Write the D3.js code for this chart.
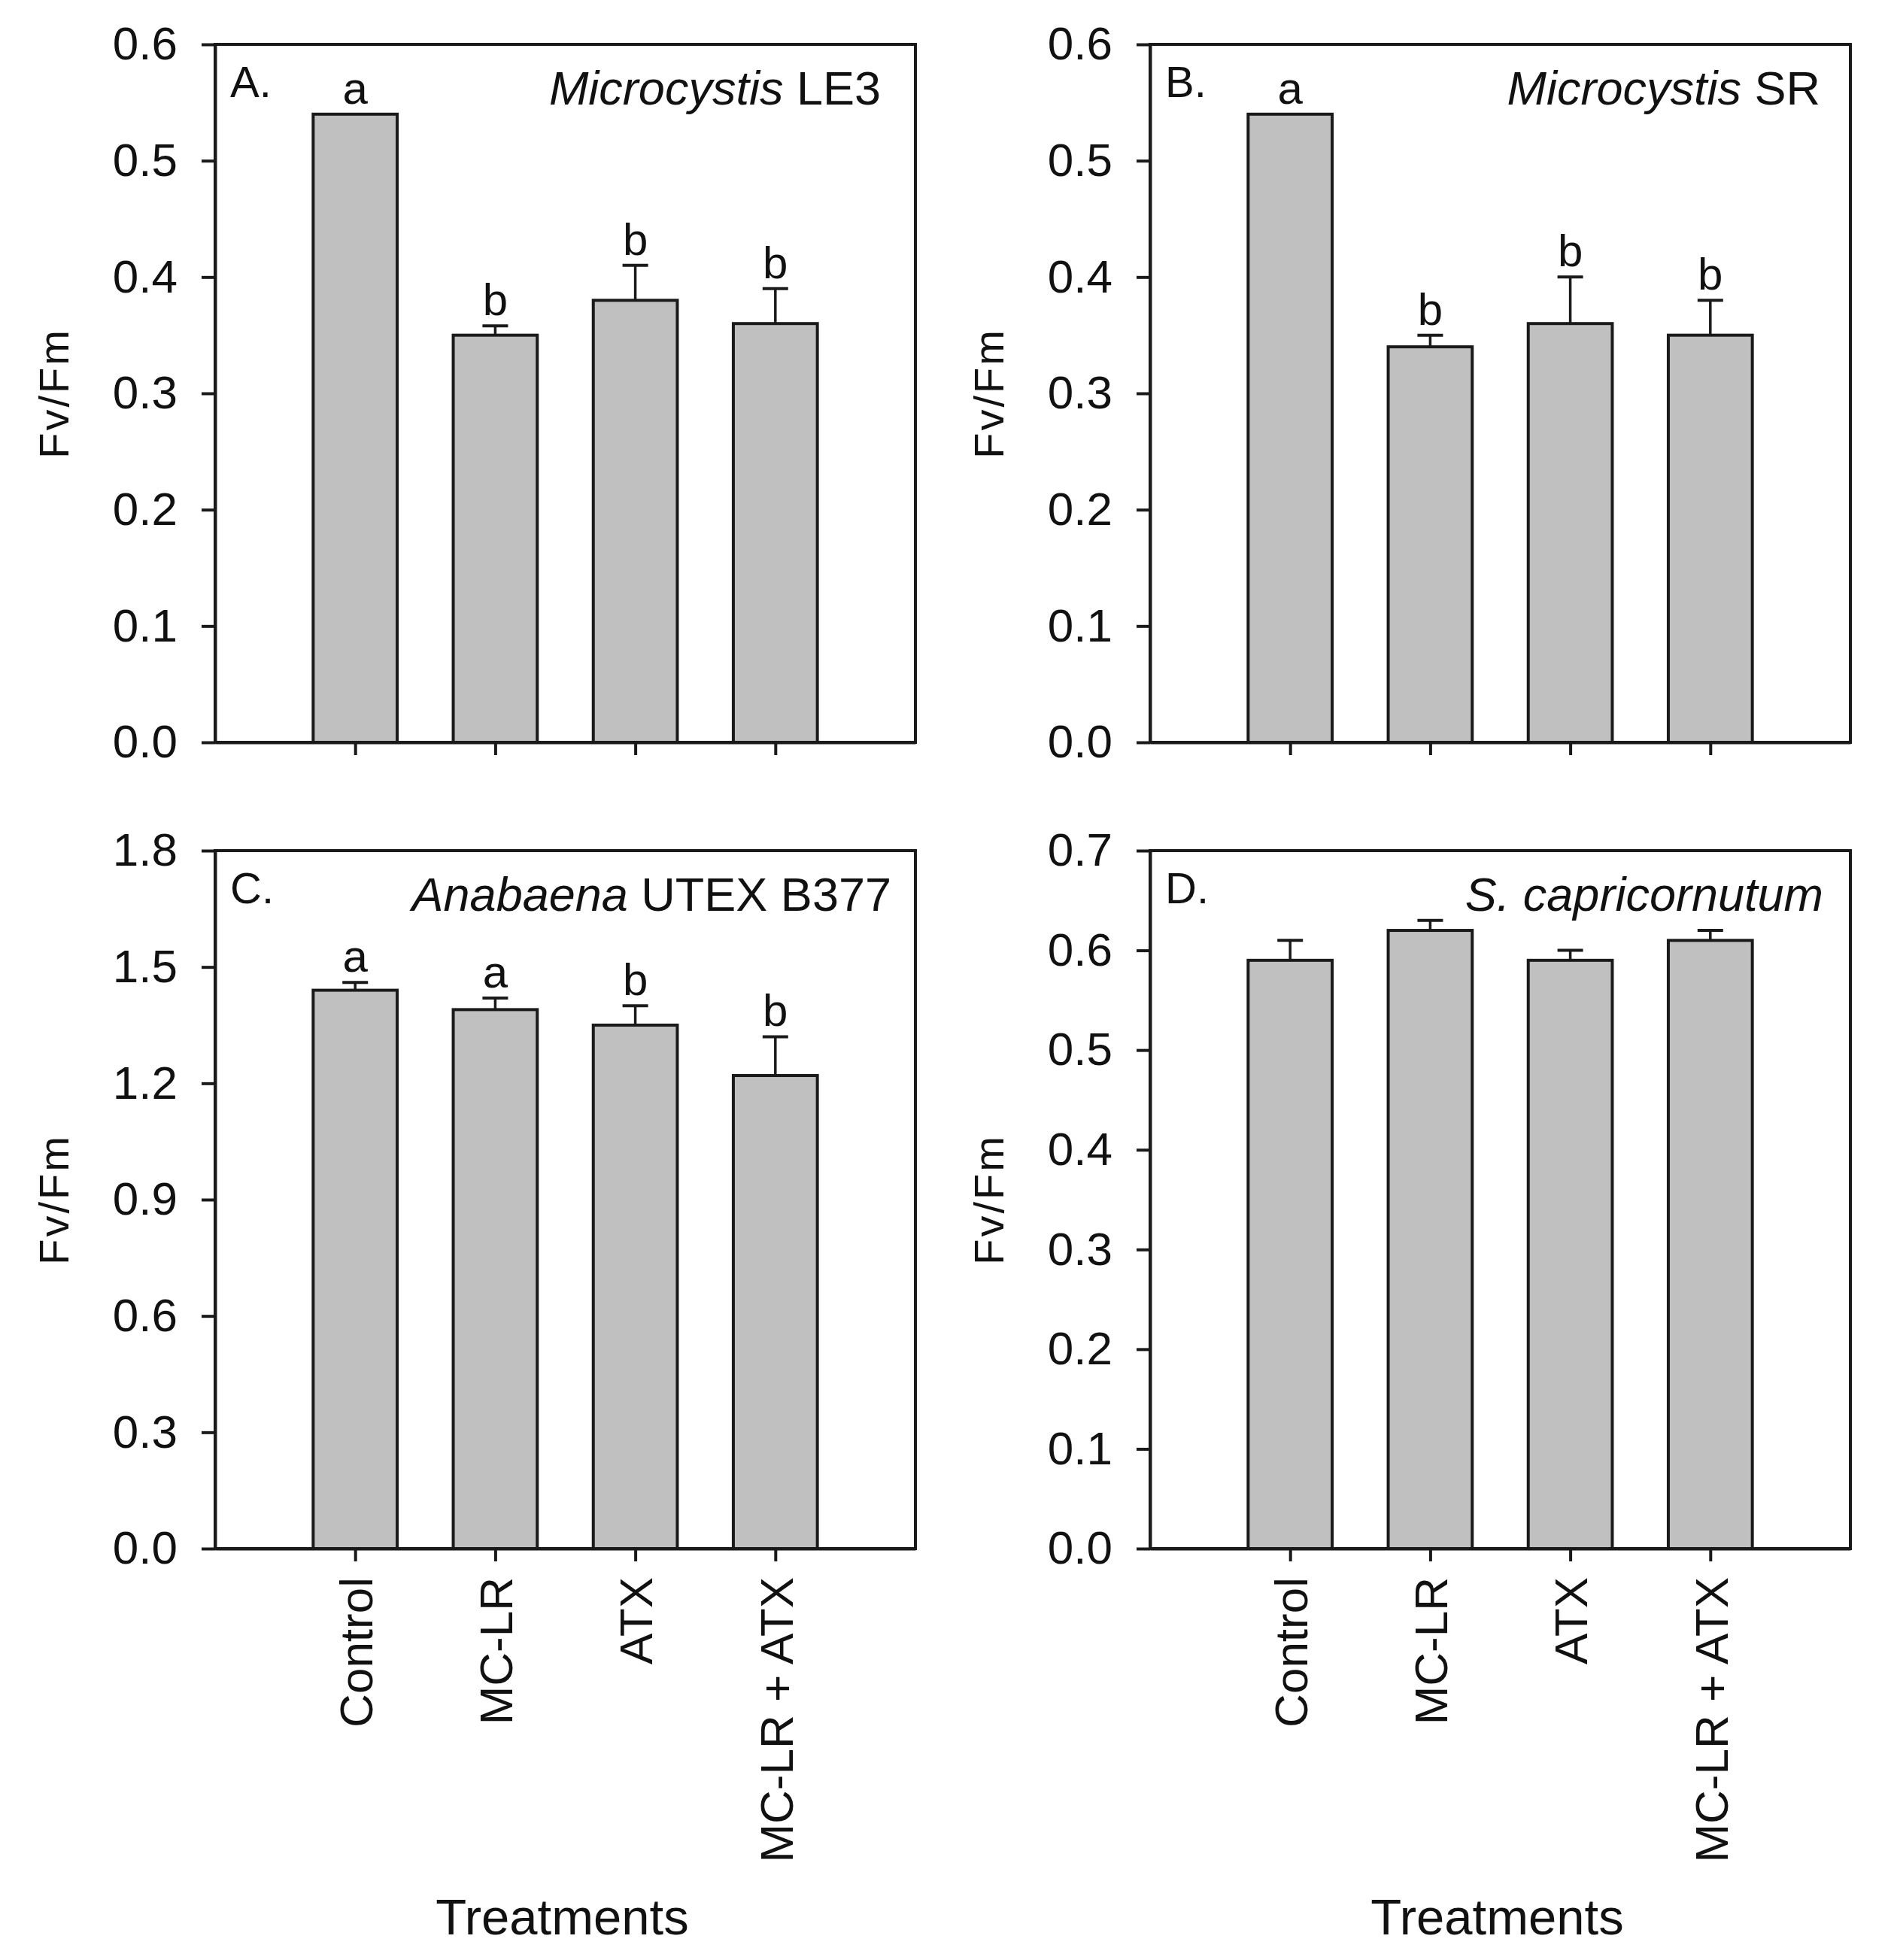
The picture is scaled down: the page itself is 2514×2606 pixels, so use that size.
<!DOCTYPE html>
<html>
<head>
<meta charset="utf-8">
<script src="https://cdn.jsdelivr.net/npm/d3@7/dist/d3.min.js"></script>
<style>
  html, body { margin: 0; padding: 0; background: #fff; }
  svg { display: block; }
  text { font-family: "Liberation Sans", Arial, Helvetica, sans-serif; fill: #111; }
</style>
</head>
<body>
<svg id="chart" width="2514" height="2606"></svg>
<script>
// ---------------- data ----------------
const categories = ["Control", "MC-LR", "ATX", "MC-LR + ATX"];

const panelLabels = ["A.", "B.", "C.", "D."];
const panelTitleItalic = ["Microcystis", "Microcystis", "Anabaena", "S. capricornutum"];
const panelTitleRegular = [" LE3", " SR", " UTEX B377", ""];

const meansA = [0.54, 0.35, 0.38, 0.36];
const errA   = [0.00, 0.008, 0.03, 0.03];
const lettersA = ["a", "b", "b", "b"];

const meansB = [0.54, 0.34, 0.36, 0.35];
const errB   = [0.00, 0.01, 0.04, 0.03];
const lettersB = ["a", "b", "b", "b"];

const meansC = [1.44, 1.39, 1.35, 1.22];
const errC   = [0.02, 0.03, 0.05, 0.10];
const lettersC = ["a", "a", "b", "b"];

const meansD = [0.59, 0.62, 0.59, 0.61];
const errD   = [0.02, 0.01, 0.01, 0.01];
const lettersD = ["", "", "", ""];

const yMaxes = [0.6, 0.6, 1.8, 0.7];
const yTicksA = [0, 0.1, 0.2, 0.3, 0.4, 0.5, 0.6];
const yTicksB = [0, 0.1, 0.2, 0.3, 0.4, 0.5, 0.6];
const yTicksC = [0, 0.3, 0.6, 0.9, 1.2, 1.5, 1.8];
const yTicksD = [0, 0.1, 0.2, 0.3, 0.4, 0.5, 0.6, 0.7];

const yTitle = "Fv/Fm";
const xTitle = "Treatments";

// ---------------- layout ----------------
const svg = d3.select("#chart");
const colX = [286, 1529];
const rowY = [59, 1131];
const pw = 931, ph = 928;
const titleRightPad = [46, 40, 32, 36];
const ink = "#1a1a1a";
const fillGrey = "#c0c0c0";
const FONT = '"Liberation Sans", Arial, sans-serif';

const panels = [
  { means: meansA, err: errA, letters: lettersA, ticks: yTicksA, col: 0, row: 0 },
  { means: meansB, err: errB, letters: lettersB, ticks: yTicksB, col: 1, row: 0 },
  { means: meansC, err: errC, letters: lettersC, ticks: yTicksC, col: 0, row: 1 },
  { means: meansD, err: errD, letters: lettersD, ticks: yTicksD, col: 1, row: 1 }
];

panels.forEach((p, i) => {
  const g = svg.append("g").attr("transform", `translate(${colX[p.col]},${rowY[p.row]})`);
  const x = d3.scalePoint().domain(categories).range([0, pw]).padding(1);
  const y = d3.scaleLinear().domain([0, yMaxes[i]]).range([ph, 0]);
  const barW = x.step() * 0.6;

  const rows = categories.map((c, k) => ({ c, m: p.means[k], e: p.err[k], l: p.letters[k] }));

  // bars
  g.selectAll("rect.bar").data(rows).enter().append("rect")
    .attr("class", "bar")
    .attr("x", d => x(d.c) - barW / 2)
    .attr("y", d => y(d.m))
    .attr("width", barW)
    .attr("height", d => y(0) - y(d.m))
    .attr("fill", fillGrey)
    .attr("stroke", ink)
    .attr("stroke-width", 4);

  // error bars (upper only)
  const eb = rows.filter(d => d.e > 0);
  g.selectAll("line.ev").data(eb).enter().append("line")
    .attr("x1", d => x(d.c)).attr("x2", d => x(d.c))
    .attr("y1", d => y(d.m)).attr("y2", d => y(d.m + d.e))
    .attr("stroke", ink).attr("stroke-width", 3.5);
  g.selectAll("line.ec").data(eb).enter().append("line")
    .attr("x1", d => x(d.c) - 17).attr("x2", d => x(d.c) + 17)
    .attr("y1", d => y(d.m + d.e)).attr("y2", d => y(d.m + d.e))
    .attr("stroke", ink).attr("stroke-width", 4);

  // significance letters
  g.selectAll("text.sig").data(rows.filter(d => d.l)).enter().append("text")
    .attr("x", d => x(d.c))
    .attr("y", d => y(d.m + d.e) - 14)
    .attr("text-anchor", "middle")
    .attr("font-size", 60)
    .text(d => d.l);

  // frame
  g.append("rect").attr("x", 0).attr("y", 0).attr("width", pw).attr("height", ph)
    .attr("fill", "none").attr("stroke", ink).attr("stroke-width", 4);

  // y axis
  const yAxis = d3.axisLeft(y).tickValues(p.ticks).tickFormat(d3.format(".1f"))
    .tickSizeInner(18).tickSizeOuter(0).tickPadding(32);
  const ya = g.append("g").call(yAxis);
  ya.select(".domain").attr("stroke", ink).attr("stroke-width", 4);
  ya.selectAll(".tick line").attr("stroke", ink).attr("stroke-width", 4);
  ya.selectAll(".tick text").attr("font-size", 62).attr("fill", "#111")
    .attr("font-family", FONT);

  // x axis
  const xAxis = d3.axisBottom(x).tickSizeInner(17).tickSizeOuter(0).tickPadding(28);
  const xa = g.append("g").attr("transform", `translate(0,${ph})`).call(xAxis);
  xa.select(".domain").attr("stroke", ink).attr("stroke-width", 4);
  xa.selectAll(".tick line").attr("stroke", ink).attr("stroke-width", 4);
  if (p.row === 1) {
    xa.selectAll(".tick text")
      .attr("font-size", 62).attr("fill", "#111")
      .attr("font-family", FONT)
      .attr("text-anchor", "end")
      .attr("dy", "0.36em")
      .attr("transform", "translate(0,38) rotate(-90)")
      .attr("x", 0).attr("y", 0);
  } else {
    xa.selectAll(".tick text").remove();
  }

  // panel label
  g.append("text").attr("x", 20).attr("y", 70).attr("font-size", 58).text(panelLabels[i]);

  // panel title
  const t = g.append("text").attr("x", pw - titleRightPad[i]).attr("y", 80)
    .attr("text-anchor", "end").attr("font-size", 63);
  t.append("tspan").attr("font-style", "italic").text(panelTitleItalic[i]);
  t.append("tspan").text(panelTitleRegular[i]);

  // y title
  g.append("text")
    .attr("transform", `translate(-195,${ph / 2}) rotate(-90)`)
    .attr("text-anchor", "middle")
    .attr("font-size", 56)
    .attr("letter-spacing", 3)
    .text(yTitle);

  // x title
  if (p.row === 1) {
    g.append("text")
      .attr("x", pw / 2 - 4)
      .attr("y", 2572 - rowY[1])
      .attr("text-anchor", "middle")
      .attr("font-size", 67)
      .text(xTitle);
  }
});
</script>
</body>
</html>
